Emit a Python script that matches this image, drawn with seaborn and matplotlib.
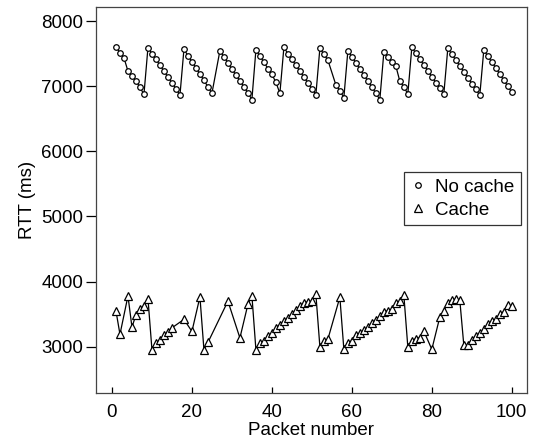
import pandas as pd
import numpy as np
import matplotlib
matplotlib.use('Agg')
import matplotlib.pyplot as plt
import seaborn as sns
from matplotlib.lines import Line2D

# No cache: sawtooth (packets 26, 55 missing)
nc_pkt = list(range(1, 26)) + list(range(27, 55)) + list(range(56, 101))
nc_rtt = [7600, 7515, 7435, 7230, 7155, 7080, 6980, 6875,
          7590, 7500, 7410, 7320, 7230, 7140, 7050, 6960, 6860,
          7565, 7470, 7375, 7280, 7185, 7090, 6990, 6890,
          7545, 7450, 7360, 7260, 7170, 7080, 6990, 6895, 6795,
          7555, 7460, 7370, 7270, 7180, 7060, 6890,
          7595, 7500, 7410, 7320, 7230, 7140, 7050, 6960, 6870,
          7580, 7490, 7400, 7020, 6930, 6825,
          7540, 7450, 7360, 7260, 7170, 7080, 6990, 6890, 6795,
          7520, 7450, 7375, 7310, 7075, 6990, 6880,
          7595, 7505, 7415, 7325, 7235, 7145, 7055, 6965, 6880,
          7580, 7490, 7400, 7310, 7220, 7130, 7040, 6950, 6860,
          7555, 7460, 7370, 7280, 7185, 7090, 7000, 6905]

# Cache
c_pkt = [1, 2, 4, 5, 6, 7, 8, 9, 10, 11, 12, 13, 14, 15, 18, 20, 22, 23, 24, 29,
         32, 34, 35, 36, 37, 38, 39, 40, 41, 42, 43, 44, 45, 46, 47, 48, 49, 50,
         51, 52, 53, 54, 57, 58, 59, 60, 61, 62, 63, 64, 65, 66, 67, 68, 69, 70,
         71, 72, 73, 74, 75, 76, 77, 78, 80, 82, 83, 84, 85, 86, 87, 88, 89, 90,
         91, 92, 93, 94, 95, 96, 97, 98, 99, 100]
c_rtt = [3550, 3190, 3780, 3300, 3490, 3585, 3625, 3740, 2955, 3050, 3110, 3175,
         3230, 3290, 3420, 3235, 3765, 2955, 3065, 3700,
         3135, 3650, 3785, 2955, 3060, 3090, 3165, 3210, 3290, 3340, 3395, 3445,
         3510, 3560, 3625, 3675, 3690, 3700,
         3805, 3000, 3095, 3115, 3760, 2960, 3055, 3095, 3185, 3210, 3250, 3300,
         3365, 3415, 3465, 3530, 3555, 3575,
         3675, 3700, 3795, 2995, 3090, 3125, 3140, 3240, 2960, 3455, 3550, 3675,
         3715, 3730, 3715, 3025, 3025, 3110,
         3165, 3215, 3265, 3345, 3395, 3420, 3500, 3540, 3635, 3630]

nc_df = pd.DataFrame({'pkt': nc_pkt, 'rtt': nc_rtt})
c_df = pd.DataFrame({'pkt': c_pkt, 'rtt': c_rtt})

sns.set_style('white')
plt.rcParams['font.family'] = ['Liberation Sans', 'DejaVu Sans']
plt.rcParams['text.color'] = 'black'
plt.rcParams['axes.labelcolor'] = 'black'
plt.rcParams['xtick.color'] = 'black'
plt.rcParams['ytick.color'] = 'black'

fig = plt.figure(figsize=(5.35, 4.43), dpi=100)
ax = fig.add_axes([0.1794, 0.1129, 0.8056, 0.8713])

sns.lineplot(data=nc_df, x='pkt', y='rtt', ax=ax, color='black', lw=0.9,
             marker='o', ms=4, mfc='white', mec='black', mew=0.9, legend=False)
sns.lineplot(data=c_df, x='pkt', y='rtt', ax=ax, color='black', lw=0.9,
             marker='^', ms=5.5, mfc='white', mec='black', mew=0.9, legend=False)

ax.set_xlim(-4, 103.8)
ax.set_ylim(2290, 8215)
ax.set_xticks([0, 20, 40, 60, 80, 100])
ax.set_yticks([3000, 4000, 5000, 6000, 7000, 8000])
ax.tick_params(axis='y', direction='out', length=7, width=0.9, labelsize=13.5, pad=2)
ax.tick_params(axis='x', direction='in', length=4, width=0.9, labelsize=13.5, pad=8)
ax.tick_params(left=True, bottom=True)
for s in ax.spines.values():
    s.set_color('#444444')
    s.set_linewidth(0.9)

ax.set_xlabel('Packet number', fontsize=13.5, labelpad=1)
ax.set_ylabel('RTT (ms)', fontsize=13.5, labelpad=4)

handles = [Line2D([], [], ls='none', marker='o', ms=4, mfc='white', mec='black', mew=0.9),
           Line2D([], [], ls='none', marker='^', ms=5.5, mfc='white', mec='black', mew=0.9)]
leg = ax.legend(handles, ['No cache', 'Cache'], loc='upper right',
                bbox_to_anchor=(0.985, 0.572), fontsize=13.5, frameon=True,
                fancybox=False, handlelength=0.8, handletextpad=0.5,
                borderpad=0.35, labelspacing=0.3, borderaxespad=0)
leg.get_frame().set_edgecolor('black')
leg.get_frame().set_linewidth(0.9)

fig.savefig('out.png', dpi=100)
